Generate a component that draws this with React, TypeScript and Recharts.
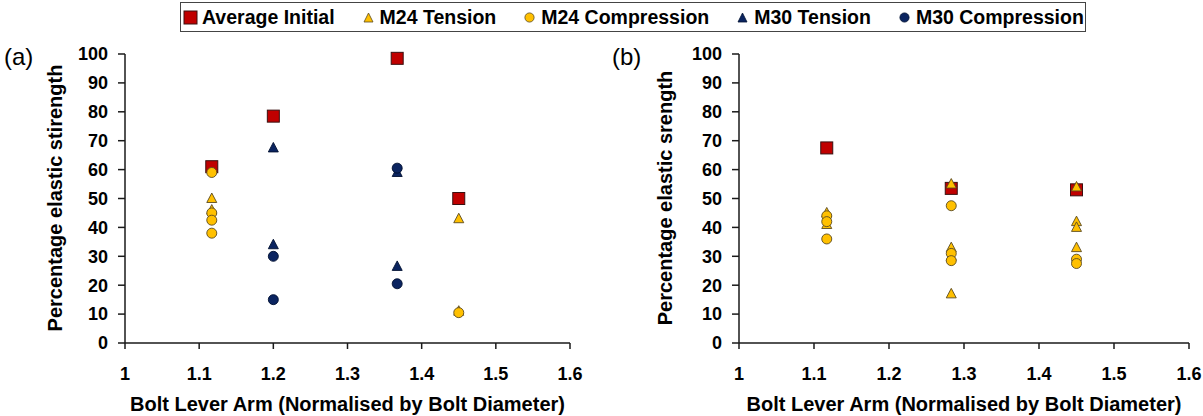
import { ScatterChart, Scatter, XAxis, YAxis, Label } from "recharts";

const FONT = '"Liberation Sans", Arial, sans-serif';
const RED = "#C00000";
const GOLD = "#FFC000";
const NAVY = "#0B2460";
const AXIS = "#1a1a1a";

const X_TICKS = [1, 1.1, 1.2, 1.3, 1.4, 1.5, 1.6];
const Y_TICKS = [0, 10, 20, 30, 40, 50, 60, 70, 80, 90, 100];

// panel (a)
const A_INITIAL_X = [1.117, 1.2, 1.367, 1.45];
const A_INITIAL_Y = [61, 78.5, 98.5, 50];
const A_M24T_X = [1.117, 1.117, 1.45, 1.45];
const A_M24T_Y = [50, 46, 43, 11];
const A_M24C_X = [1.117, 1.117, 1.117, 1.117, 1.45];
const A_M24C_Y = [59, 45, 42.5, 38, 10.5];
const A_M30T_X = [1.2, 1.2, 1.367, 1.367];
const A_M30T_Y = [67.5, 34, 59, 26.5];
const A_M30C_X = [1.2, 1.2, 1.367, 1.367];
const A_M30C_Y = [30, 15, 60.5, 20.5];

// panel (b)
const B_INITIAL_X = [1.117, 1.283, 1.45];
const B_INITIAL_Y = [67.5, 53.5, 53];
const B_M24T_X = [1.117, 1.117, 1.283, 1.283, 1.283, 1.283, 1.45, 1.45, 1.45, 1.45];
const B_M24T_Y = [45, 41, 55, 33, 30, 17, 54, 42, 40, 33];
const B_M24C_X = [1.117, 1.117, 1.117, 1.283, 1.283, 1.283, 1.45, 1.45];
const B_M24C_Y = [44, 42, 36, 47.5, 31, 28.5, 29, 27.5];

const pts = (xs: number[], ys: number[]) => xs.map((x, i) => ({ x, y: ys[i] }));

const Square = (p: any) => (
  <rect x={p.cx - 6} y={p.cy - 6} width={12} height={12} fill={RED} stroke="#3a1010" strokeWidth={1} />
);
const Tri = (fill: string, stroke: string) => (p: any) => (
  <polygon
    points={`${p.cx},${p.cy - 5.5} ${p.cx + 5},${p.cy + 4} ${p.cx - 5},${p.cy + 4}`}
    fill={fill}
    stroke={stroke}
    strokeWidth={0.9}
  />
);
const Dot = (fill: string, stroke: string) => (p: any) => (
  <circle cx={p.cx} cy={p.cy} r={5} fill={fill} stroke={stroke} strokeWidth={0.9} />
);

const tickStyle = { fontSize: 18, fontWeight: 700, fill: "#000", fontFamily: FONT };
const titleStyle = { fontSize: 20, fontWeight: 700, fontFamily: FONT, fill: "#000" };

function YTitle({ text, dx }: { text: string; dx: number }) {
  return (
    <Label
      content={(p: any) => {
        const vb = p.viewBox;
        const x = vb.x + dx;
        const y = 198;
        return (
          <text
            x={x}
            y={y}
            transform={`rotate(-90 ${x} ${y})`}
            textAnchor="middle"
            dominantBaseline="central"
            style={titleStyle}
          >
            {text}
          </text>
        );
      }}
    />
  );
}

function Panel({
  left,
  width,
  marginLeft,
  marginRight,
  yTitle,
  yTitleDx,
  series,
}: {
  left: number;
  width: number;
  marginLeft: number;
  marginRight: number;
  yTitle: string;
  yTitleDx: number;
  series: { name: string; data: { x: number; y: number }[]; shape: any }[];
}) {
  return (
    <div style={{ position: "absolute", left, top: 0 }}>
      <ScatterChart width={width} height={416} margin={{ top: 54, right: marginRight, left: marginLeft, bottom: 0 }}>
        <XAxis
          type="number"
          dataKey="x"
          domain={[1, 1.6]}
          ticks={X_TICKS}
          interval={0}
          height={73}
          tickSize={6}
          tickMargin={18}
          tick={tickStyle}
          axisLine={{ stroke: AXIS, strokeWidth: 1.5 }}
          tickLine={{ stroke: AXIS, strokeWidth: 1.5 }}
        >
          <Label
            value="Bolt Lever Arm (Normalised by Bolt Diameter)"
            position="insideBottom"
            offset={5}
            style={titleStyle}
          />
        </XAxis>
        <XAxis xAxisId="top" orientation="top" type="number" domain={[1, 1.6]} height={0} tick={false} tickLine={false}
          axisLine={{ stroke: AXIS, strokeWidth: 1.5 }} />
        <YAxis
          type="number"
          dataKey="y"
          domain={[0, 100]}
          ticks={Y_TICKS}
          interval={0}
          width={60}
          tickSize={7}
          tickMargin={10}
          tick={tickStyle}
          axisLine={{ stroke: AXIS, strokeWidth: 1.5 }}
          tickLine={{ stroke: AXIS, strokeWidth: 1.5 }}
        >
          {YTitle({ text: yTitle, dx: yTitleDx })}
        </YAxis>
        <YAxis yAxisId="right" orientation="right" type="number" domain={[0, 100]} width={0} tick={false} tickLine={false}
          axisLine={{ stroke: AXIS, strokeWidth: 1.5 }} />
        {series.map((s) => (
          <Scatter key={s.name} name={s.name} data={s.data} shape={s.shape} isAnimationActive={false} />
        ))}
      </ScatterChart>
    </div>
  );
}

function LegendBox() {
  const item = (marker: any, text: string, gap: number) => (
    <div style={{ display: "flex", alignItems: "center", marginRight: gap }}>
      <svg width={15} height={15} style={{ marginRight: 4 }}>
        {marker}
      </svg>
      <span>{text}</span>
    </div>
  );
  return (
    <div
      style={{
        position: "absolute",
        left: 180,
        top: 2,
        width: 906,
        height: 30,
        border: "1.5px solid #444",
        display: "flex",
        alignItems: "center",
        paddingLeft: 2,
        boxSizing: "border-box",
        fontFamily: FONT,
        fontWeight: 700,
        fontSize: 19.5,
        color: "#000",
        whiteSpace: "nowrap",
      }}
    >
      {item(<rect x={1} y={1} width={13} height={13} fill={RED} stroke="#3a1010" />, "Average Initial", 26)}
      {item(<polygon points="7.5,3 12,12 3,12" fill={GOLD} stroke="#5a4a20" strokeWidth={0.8} />, "M24 Tension", 26)}
      {item(<circle cx={7.5} cy={7.5} r={4.6} fill={GOLD} stroke="#5a4a20" strokeWidth={0.8} />, "M24 Compression", 26)}
      {item(<polygon points="7.5,3 12,12 3,12" fill={NAVY} stroke="#001030" strokeWidth={0.8} />, "M30 Tension", 26)}
      {item(<circle cx={7.5} cy={7.5} r={4.6} fill={NAVY} stroke="#001030" strokeWidth={0.8} />, "M30 Compression", 0)}
    </div>
  );
}

export default function App() {
  const gT = Tri(GOLD, "#5a4a20");
  const gC = Dot(GOLD, "#5a4a20");
  const nT = Tri(NAVY, "#001030");
  const nC = Dot(NAVY, "#001030");
  return (
    <div style={{ position: "fixed", left: 0, top: 0, width: 1203, height: 416, background: "#fff", overflow: "hidden" }}>
      <Panel
        left={0}
        width={600}
        marginLeft={65}
        marginRight={30}
        yTitle="Percentage elastic stirength"
        yTitleDx={-10}
        series={[
          { name: "Average Initial", data: pts(A_INITIAL_X, A_INITIAL_Y), shape: Square },
          { name: "M24 Tension", data: pts(A_M24T_X, A_M24T_Y), shape: gT },
          { name: "M24 Compression", data: pts(A_M24C_X, A_M24C_Y), shape: gC },
          { name: "M30 Tension", data: pts(A_M30T_X, A_M30T_Y), shape: nT },
          { name: "M30 Compression", data: pts(A_M30C_X, A_M30C_Y), shape: nC },
        ]}
      />
      <Panel
        left={610}
        width={593}
        marginLeft={69}
        marginRight={14}
        yTitle="Percentage elastic srength"
        yTitleDx={-14}
        series={[
          { name: "Average Initial", data: pts(B_INITIAL_X, B_INITIAL_Y), shape: Square },
          { name: "M24 Tension", data: pts(B_M24T_X, B_M24T_Y), shape: gT },
          { name: "M24 Compression", data: pts(B_M24C_X, B_M24C_Y), shape: gC },
        ]}
      />
      <div style={{ position: "absolute", left: 4, top: 43, fontFamily: FONT, fontSize: 24 }}>(a)</div>
      <div style={{ position: "absolute", left: 612, top: 43, fontFamily: FONT, fontSize: 24 }}>(b)</div>
      <LegendBox />
    </div>
  );
}
